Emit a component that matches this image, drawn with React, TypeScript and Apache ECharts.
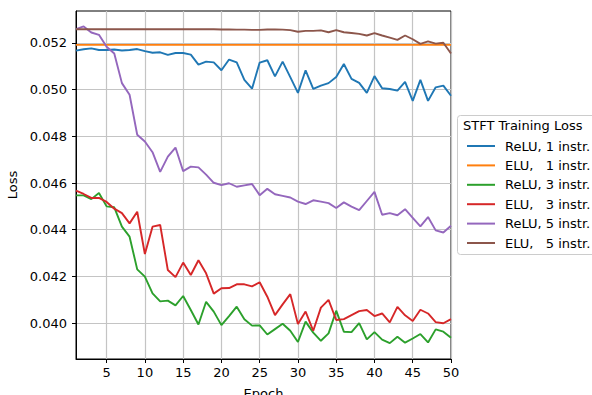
import React, { useEffect, useRef } from "react";
import * as echarts from "echarts";

const epochs = [1,2,3,4,5,6,7,8,9,10,11,12,13,14,15,16,17,18,19,20,21,22,23,24,25,26,27,28,29,30,31,32,33,34,35,36,37,38,39,40,41,42,43,44,45,46,47,48,49,50];

const reluOne = [0.05167,0.05173,0.05177,0.0517,0.0517,0.05172,0.05168,0.0517,0.05174,0.05165,0.05158,0.0516,0.05149,0.05157,0.05157,0.0515,0.05107,0.0512,0.05117,0.05083,0.05129,0.05117,0.05042,0.05004,0.05116,0.05126,0.05057,0.0512,0.05054,0.04986,0.05083,0.05003,0.05017,0.05028,0.05054,0.0511,0.05046,0.05029,0.04986,0.05058,0.05006,0.05003,0.04996,0.05033,0.04952,0.05042,0.04952,0.0501,0.05017,0.04974];

const eluOne = [0.05192,0.05192,0.05192,0.05192,0.05192,0.05192,0.05192,0.05192,0.05192,0.05192,0.05192,0.05192,0.05192,0.05192,0.05192,0.05192,0.05192,0.05192,0.05192,0.05192,0.05192,0.05192,0.05192,0.05192,0.05192,0.05192,0.05192,0.05192,0.05192,0.05192,0.05192,0.05192,0.05192,0.05192,0.05192,0.05192,0.05192,0.05192,0.05192,0.05192,0.05192,0.05192,0.05192,0.05192,0.05192,0.05192,0.05192,0.05192,0.05192,0.05192];

const reluThree = [0.04547,0.04547,0.04531,0.04557,0.045,0.04496,0.04413,0.0437,0.0423,0.04199,0.04127,0.04093,0.04096,0.04076,0.04116,0.04056,0.03994,0.04091,0.04049,0.03991,0.0403,0.0407,0.04016,0.03989,0.0399,0.03951,0.03974,0.03997,0.03967,0.03919,0.04006,0.03959,0.03924,0.03956,0.04053,0.03963,0.03961,0.04,0.0393,0.03961,0.03929,0.03914,0.03941,0.03916,0.03934,0.03953,0.03917,0.03973,0.03963,0.03937];

const eluThree = [0.04567,0.04553,0.04536,0.04536,0.04519,0.0449,0.04471,0.04427,0.04477,0.04296,0.04413,0.0442,0.04227,0.04197,0.04259,0.04206,0.04269,0.04213,0.04126,0.04149,0.0415,0.04166,0.04166,0.04157,0.04175,0.04113,0.04034,0.0408,0.04124,0.03996,0.04049,0.03967,0.04066,0.04099,0.04013,0.04017,0.04034,0.04051,0.04056,0.0403,0.04041,0.04003,0.04069,0.04033,0.04009,0.04057,0.04041,0.04004,0.03999,0.04017];

const reluFive = [0.05259,0.05271,0.05245,0.05235,0.05184,0.05155,0.05028,0.04978,0.04807,0.04778,0.04732,0.04648,0.04713,0.04752,0.04651,0.0467,0.04667,0.04636,0.04601,0.04591,0.04599,0.04584,0.0459,0.04596,0.04548,0.04575,0.04552,0.04545,0.04538,0.0452,0.0451,0.04526,0.0452,0.04514,0.04493,0.04517,0.04499,0.04484,0.04523,0.04562,0.04464,0.04471,0.04462,0.04488,0.04451,0.04414,0.04454,0.04397,0.04388,0.04417];

const eluFive = [0.05259,0.05259,0.05259,0.05259,0.05259,0.05259,0.05259,0.05259,0.05259,0.05259,0.05259,0.05259,0.05259,0.05259,0.05259,0.05259,0.05259,0.05259,0.05259,0.05258,0.05258,0.05257,0.05257,0.05256,0.05256,0.05258,0.05258,0.05257,0.05255,0.05248,0.05252,0.05252,0.05254,0.05246,0.05255,0.05246,0.05243,0.05239,0.05232,0.05242,0.05232,0.05223,0.05213,0.05232,0.05216,0.05196,0.05207,0.05197,0.05201,0.05155];

const seriesNames = ["ReLU, 1 instr.", "ELU,   1 instr.", "ReLU, 3 instr.", "ELU,   3 instr.", "ReLU, 5 instr.", "ELU,   5 instr."];
const seriesColors = ["#1f77b4", "#ff7f0e", "#2ca02c", "#d62728", "#9467bd", "#8c564b"];
const seriesValues = [reluOne, eluOne, reluThree, eluThree, reluFive, eluFive];

const xTicks = [5, 10, 15, 20, 25, 30, 35, 40, 45, 50];
const yTicks = [0.04, 0.042, 0.044, 0.046, 0.048, 0.05, 0.052];

const FONT = "DejaVu Sans";

export default function App() {
  const ref = useRef<HTMLDivElement>(null);
  useEffect(() => {
    if (!ref.current) return;
    const chart = echarts.init(ref.current, undefined, { renderer: "svg" });
    chart.setOption({
      animation: false,
      backgroundColor: "#ffffff",
      textStyle: { fontFamily: FONT },
      grid: {
        left: 76, top: 11, right: 141, bottom: 36,
        outerBoundsMode: "none", containLabel: false,
        show: true, borderColor: "#000", borderWidth: 1, backgroundColor: "transparent",
      },
      xAxis: {
        type: "value", min: 1, max: 50,
        name: "Epoch", nameLocation: "middle", nameGap: 28,
        nameTextStyle: { fontSize: 13, color: "#000", fontFamily: FONT },
        axisLine: { show: true, lineStyle: { color: "#000", width: 1 } },
        axisTick: { show: true, length: 4, lineStyle: { color: "#000" }, customValues: xTicks },
        axisLabel: { fontSize: 13, color: "#000", margin: 7, fontFamily: FONT, customValues: xTicks },
        splitLine: { show: true, lineStyle: { color: "#c4c4c4", width: 1.2 } },
      },
      yAxis: {
        type: "value", min: 0.03846, max: 0.05337,
        name: "Loss", nameLocation: "middle", nameGap: 52, nameRotate: 90,
        nameTextStyle: { fontSize: 13, color: "#000", fontFamily: FONT },
        axisLine: { show: true, lineStyle: { color: "#000", width: 1 } },
        axisTick: { show: true, length: 4, lineStyle: { color: "#000" }, customValues: yTicks },
        axisLabel: {
          fontSize: 13, color: "#000", margin: 9, fontFamily: FONT, customValues: yTicks,
          formatter: (v: number) => v.toFixed(3),
        },
        splitLine: { show: true, lineStyle: { color: "#c4c4c4", width: 1.2 } },
      },
      legend: {
        orient: "vertical", left: 462, top: 134,
        icon: "rect", itemWidth: 28, itemHeight: 2, itemGap: 5.4,
        data: seriesNames,
        textStyle: { fontSize: 13, color: "#000", fontFamily: FONT, lineHeight: 14, padding: [0, 0, 0, 5] },
        z: 10,
      },
      graphic: [
        {
          type: "rect", left: 457, top: 115, z: 5,
          shape: { width: 145, height: 139, r: 3 },
          style: { fill: "rgba(255,255,255,0.85)", stroke: "#cccccc", lineWidth: 1 },
        },
        {
          type: "text", left: 463, top: 119, z: 6,
          style: { text: "STFT Training Loss", fontSize: 13, fill: "#000", fontFamily: FONT },
        },
      ],
      series: seriesNames.map((name, i) => ({
        name, type: "line", showSymbol: false, symbol: "none",
        data: epochs.map((e, j) => [e, seriesValues[i][j]]),
        lineStyle: { color: seriesColors[i], width: 1.9 },
        itemStyle: { color: seriesColors[i] },
        z: 2 + i,
      })),
    });
    return () => chart.dispose();
  }, []);
  return <div ref={ref} style={{ position: "fixed", left: 0, top: 0, width: 592, height: 395 }} />;
}
